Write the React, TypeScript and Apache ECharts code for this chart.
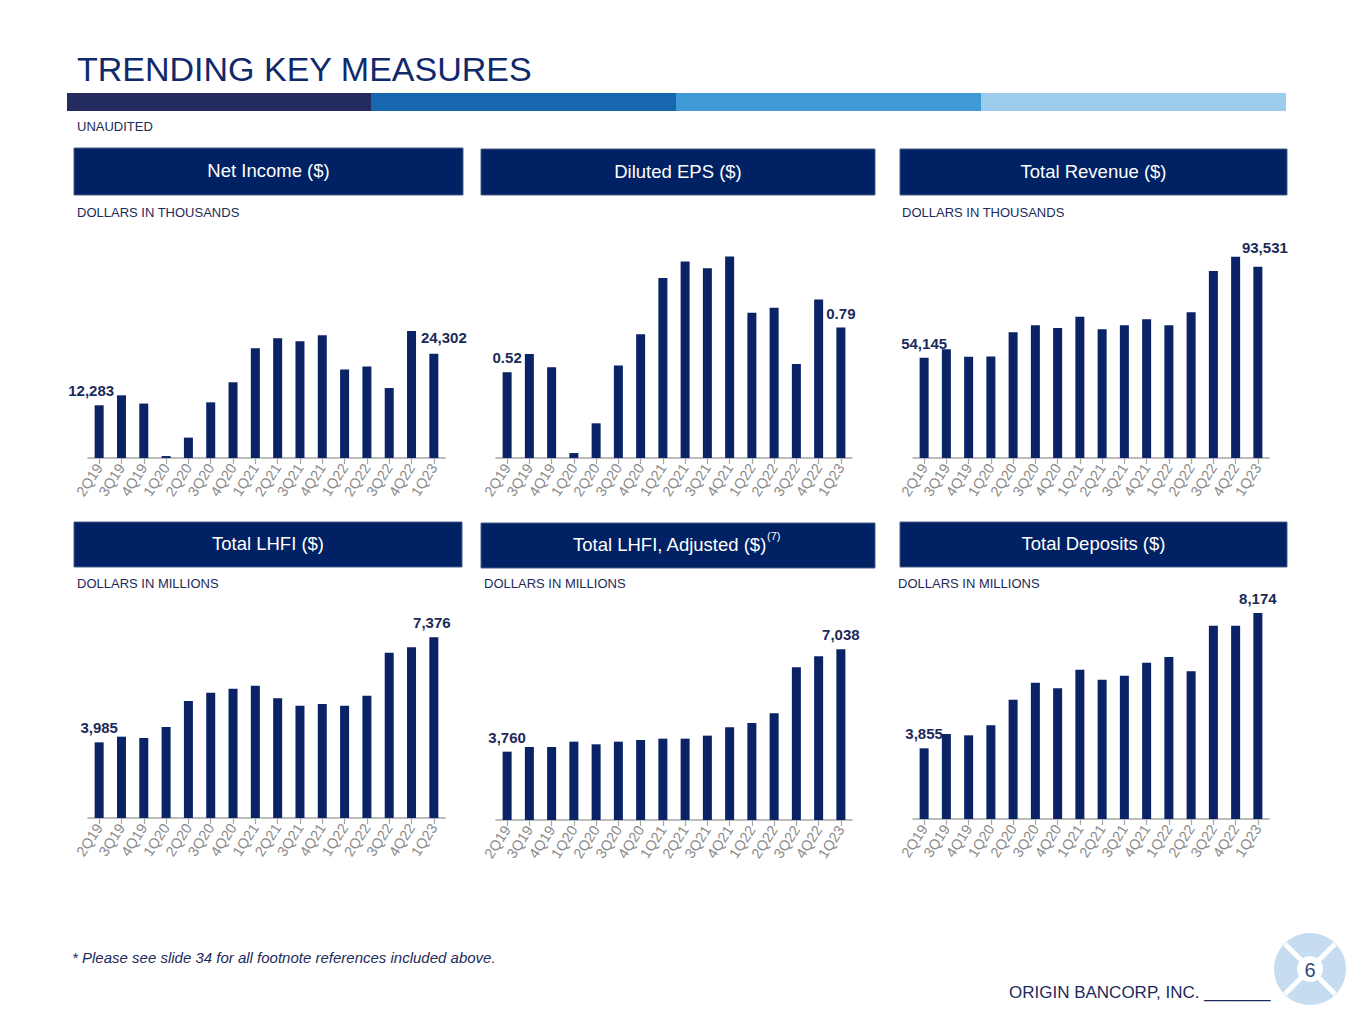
import React, { useEffect, useRef } from "react";
import * as echarts from "echarts";

const categories = ["2Q19","3Q19","4Q19","1Q20","2Q20","3Q20","4Q20","1Q21","2Q21","3Q21","4Q21","1Q22","2Q22","3Q22","4Q22","1Q23"];

const netIncome = [12283,14600,12680,450,4750,12970,17640,25570,27900,27200,28600,20600,21300,16300,29600,24302];
const dilutedEps = [0.52,0.63,0.55,0.03,0.21,0.56,0.75,1.09,1.19,1.15,1.22,0.88,0.91,0.57,0.96,0.79];
const totalRevenue = [54145,57750,54570,54600,65100,68130,66980,71890,66400,68130,70730,68130,73760,91650,97850,93531];
const totalLhfi = [3985,4168,4125,4480,5320,5589,5718,5815,5406,5169,5223,5169,5492,6880,7053,7376];
const totalLhfiAdj = [3760,3909,3909,4080,3995,4080,4134,4176,4176,4273,4539,4678,4988,6462,6814,7038];
const totalDeposits = [3855,4313,4270,4589,5408,5951,5770,6366,6047,6174,6589,6770,6313,7770,7770,8174];

const titles = ["Net Income ($)", "Diluted EPS ($)", "Total Revenue ($)", "Total LHFI ($)", "Total LHFI, Adjusted ($)", "Total Deposits ($)"];
const subtitles = ["DOLLARS IN THOUSANDS", "", "DOLLARS IN THOUSANDS", "DOLLARS IN MILLIONS", "DOLLARS IN MILLIONS", "DOLLARS IN MILLIONS"];

const FONT = "'Liberation Sans', Arial, sans-serif";
const NAVY = "#0a2266";
const TEXT_NAVY = "#1c2a5a";

export default function App() {
  const ref = useRef<HTMLDivElement>(null);
  useEffect(() => {
    if (!ref.current) return;
    const chart = echarts.init(ref.current, undefined, { renderer: "svg" });

    const charts = [
      { data: netIncome, left: 88, top: 250, width: 357, height: 208, min: 0, max: 48460, fmt: (v: number) => v.toLocaleString("en-US"), offFirst: [-8, 0], offLast: [10, -2] },
      { data: dilutedEps, left: 496, top: 250, width: 356, height: 208, min: 0, max: 1.26, fmt: (v: number) => v.toFixed(2), offFirst: [0, 0], offLast: [0, 0] },
      { data: totalRevenue, left: 913, top: 250, width: 356, height: 208, min: 10715, max: 100740, fmt: (v: number) => v.toLocaleString("en-US"), offFirst: [0, 0], offLast: [7, -5] },
      { data: totalLhfi, left: 88, top: 615, width: 357, height: 203, min: 1541, max: 8098, fmt: (v: number) => v.toLocaleString("en-US"), offFirst: [0, 0], offLast: [-2, 0] },
      { data: totalLhfiAdj, left: 496, top: 615, width: 356, height: 205, min: 1571, max: 8137, fmt: (v: number) => v.toLocaleString("en-US"), offFirst: [0, 0], offLast: [0, 0] },
      { data: totalDeposits, left: 913, top: 600, width: 356, height: 219, min: 1600, max: 8588, fmt: (v: number) => v.toLocaleString("en-US"), offFirst: [0, 0], offLast: [0, 0] },
    ];

    const grid = charts.map((c) => ({ left: c.left, top: c.top, width: c.width, height: c.height, containLabel: false }));
    const xAxis = charts.map((c, i) => ({
      type: "category",
      gridIndex: i,
      data: categories,
      boundaryGap: true,
      axisLine: { show: true, lineStyle: { color: "#a6a6a6", width: 1.5 } },
      axisTick: { show: true, alignWithLabel: true, length: 6, lineStyle: { color: "#a6a6a6", width: 1.2 } },
      axisLabel: { interval: 0, rotate: 57, fontSize: 14.5, color: "#8a8a8a", margin: 7, fontFamily: FONT },
      splitLine: { show: false },
    }));
    const yAxis = charts.map((c, i) => ({
      type: "value",
      gridIndex: i,
      min: c.min,
      max: c.max,
      show: false,
      splitLine: { show: false },
    }));
    const series = charts.map((c, i) => ({
      type: "bar",
      xAxisIndex: i,
      yAxisIndex: i,
      barWidth: 9,
      itemStyle: { color: NAVY },
      data: c.data.map((v, j) => {
        const isFirst = j === 0;
        const isLast = j === c.data.length - 1;
        return {
          value: v,
          label: {
            show: isFirst || isLast,
            position: "top",
            distance: 7,
            offset: isFirst ? c.offFirst : c.offLast,
            formatter: () => c.fmt(v),
            fontSize: 15,
            fontWeight: "bold",
            color: TEXT_NAVY,
            fontFamily: FONT,
          },
        };
      }),
    }));

    const boxes = [
      { x: 74, y: 148, w: 389, h: 47 },
      { x: 481, y: 149, w: 394, h: 46 },
      { x: 900, y: 149, w: 387, h: 46 },
      { x: 74, y: 522, w: 388, h: 45 },
      { x: 481, y: 523, w: 394, h: 45 },
      { x: 900, y: 522, w: 387, h: 45 },
    ];
    const subPos = [
      { x: 77, y: 212 }, { x: 484, y: 212 }, { x: 902, y: 212 },
      { x: 77, y: 583 }, { x: 484, y: 583 }, { x: 898, y: 583 },
    ];

    const graphic: any[] = [
      { type: "text", left: 77, top: 52, style: { text: "TRENDING KEY MEASURES", fontSize: 34, fill: "#10296b", fontFamily: FONT } },
      { type: "rect", shape: { x: 67, y: 93, width: 305, height: 18 }, style: { fill: "#232b5f" } },
      { type: "rect", shape: { x: 371, y: 93, width: 306, height: 18 }, style: { fill: "#1666b0" } },
      { type: "rect", shape: { x: 676, y: 93, width: 306, height: 18 }, style: { fill: "#419ad8" } },
      { type: "rect", shape: { x: 981, y: 93, width: 305, height: 18 }, style: { fill: "#9ccbec" } },
      { type: "text", x: 77, y: 126, style: { text: "UNAUDITED", fontSize: 13, fill: TEXT_NAVY, fontFamily: FONT, verticalAlign: "middle" } },
      { type: "text", x: 72, y: 957, style: { text: "* Please see slide 34 for all footnote references included above.", fontSize: 15, fontStyle: "italic", fill: TEXT_NAVY, fontFamily: FONT, verticalAlign: "middle" } },
      { type: "text", x: 1009, y: 992, style: { text: "ORIGIN BANCORP, INC. _______", fontSize: 17, fill: TEXT_NAVY, fontFamily: FONT, verticalAlign: "middle" } },
      { type: "circle", shape: { cx: 1310, cy: 969, r: 36 }, style: { fill: "#c6dcf0" } },
      { type: "line", shape: { x1: 1285, y1: 944, x2: 1335, y2: 994 }, style: { stroke: "#ffffff", lineWidth: 5 } },
      { type: "line", shape: { x1: 1335, y1: 944, x2: 1285, y2: 994 }, style: { stroke: "#ffffff", lineWidth: 5 } },
      { type: "circle", shape: { cx: 1310, cy: 969, r: 13 }, style: { fill: "#ffffff" } },
      { type: "text", x: 1310, y: 970, style: { text: "6", fontSize: 20, fill: "#2b4a7a", fontFamily: FONT, align: "center", verticalAlign: "middle" } },
    ];

    boxes.forEach((b, i) => {
      graphic.push({ type: "rect", shape: { x: b.x, y: b.y, width: b.w, height: b.h }, style: { fill: "#002163", stroke: "#4a5f8a", lineWidth: 1 } });
      if (i === 4) {
        graphic.push({ type: "text", x: 573, y: b.y + b.h / 2 - 1, style: { text: titles[i], fontSize: 18.5, fill: "#ffffff", fontFamily: FONT, verticalAlign: "middle" } });
        graphic.push({ type: "text", x: 767, y: b.y + b.h / 2 - 10, style: { text: "(7)", fontSize: 11, fill: "#ffffff", fontFamily: FONT, verticalAlign: "middle" } });
      } else {
        graphic.push({ type: "text", x: b.x + b.w / 2, y: b.y + b.h / 2 - 1, style: { text: titles[i], fontSize: 18.5, fill: "#ffffff", fontFamily: FONT, align: "center", verticalAlign: "middle" } });
      }
      if (subtitles[i]) {
        graphic.push({ type: "text", x: subPos[i].x, y: subPos[i].y, style: { text: subtitles[i], fontSize: 13, fill: TEXT_NAVY, fontFamily: FONT, verticalAlign: "middle" } });
      }
    });

    chart.setOption({
      animation: false,
      backgroundColor: "#ffffff",
      textStyle: { fontFamily: FONT },
      grid,
      xAxis,
      yAxis,
      series,
      graphic,
    } as any);

    return () => chart.dispose();
  }, []);

  return <div ref={ref} style={{ position: "fixed", left: 0, top: 0, width: 1365, height: 1024 }} />;
}
